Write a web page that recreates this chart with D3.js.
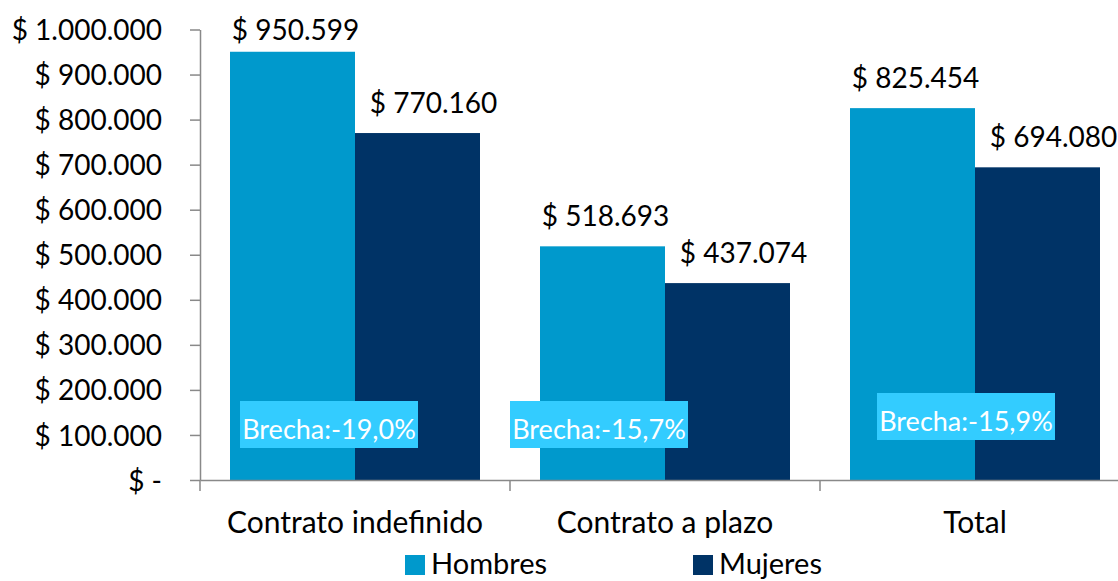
<!DOCTYPE html>
<html>
<head>
<meta charset="utf-8">
<script src="https://cdn.jsdelivr.net/npm/d3@7"></script>
<style>
  body { margin: 0; background: #fff; }
  text { font-family: Lato, "Open Sans", sans-serif; fill: #000; }
</style>
</head>
<body>
<script>
// data
var categories = ["Contrato indefinido", "Contrato a plazo", "Total"];
var series = ["Hombres", "Mujeres"];
var hombres = [950599, 518693, 825454];
var mujeres = [770160, 437074, 694080];
var brecha = ["-19,0%", "-15,7%", "-15,9%"];
var yTicks = [0, 100000, 200000, 300000, 400000, 500000, 600000, 700000, 800000, 900000, 1000000];

var colors = {Hombres: "#0099cc", Mujeres: "#003366"};

var width = 1118, height = 581;

var svg = d3.select("body").append("svg")
    .attr("width", width)
    .attr("height", height);

var loc = d3.formatLocale({decimal: ",", thousands: ".", grouping: [3], currency: ["$ ", ""]});
var fmt = loc.format(",.0f");
function money(v) { return v === 0 ? "$ -" : "$ " + fmt(v); }

// scales
var x = d3.scaleBand()
    .domain(categories)
    .range([200, 1130])
    .padding(0);

var x1 = d3.scaleBand()
    .domain(series)
    .range([0, x.bandwidth()])
    .paddingInner(0)
    .paddingOuter(0.24);

var y = d3.scaleLinear()
    .domain([0, 1000000])
    .range([480, 29.5]);

var rows = categories.map(function(c, i) {
    return {cat: c, Hombres: hombres[i], Mujeres: mujeres[i], brecha: brecha[i]};
});

// bars
var groups = svg.selectAll(".grp")
    .data(rows)
    .enter().append("g")
    .attr("class", "grp")
    .attr("transform", function(d) { return "translate(" + x(d.cat) + ",0)"; });

groups.selectAll("rect")
    .data(function(d) { return series.map(function(s) { return {s: s, v: d[s]}; }); })
    .enter().append("rect")
    .attr("x", function(d) { return x1(d.s); })
    .attr("width", x1.bandwidth())
    .attr("y", function(d) { return y(d.v); })
    .attr("height", function(d) { return y(0) - y(d.v); })
    .attr("fill", function(d) { return colors[d.s]; });

// value labels (excel nudges them a bit)
var labelDx = {Hombres: 3, Mujeres: 16};
groups.selectAll(".val")
    .data(function(d) { return series.map(function(s) { return {s: s, v: d[s]}; }); })
    .enter().append("text")
    .attr("class", "val")
    .attr("x", function(d) { return x1(d.s) + x1.bandwidth() / 2 + labelDx[d.s]; })
    .attr("y", function(d) { return Math.max(y(d.v) - 20, 40); })
    .attr("text-anchor", "middle")
    .style("font-size", "28px")
    .text(function(d) { return money(d.v); });

// y axis
var yAxis = d3.axisLeft(y)
    .tickValues(yTicks)
    .tickSize(10)
    .tickSizeOuter(0)
    .tickPadding(28)
    .tickFormat(money);

var gy = svg.append("g")
    .attr("transform", "translate(200,0)")
    .call(yAxis);
gy.select(".domain").attr("stroke", "#898989").attr("stroke-width", 1.5);
gy.selectAll(".tick line").attr("stroke", "#898989").attr("stroke-width", 1.5);
gy.selectAll(".tick text")
    .attr("dy", "0.36em")
    .style("font-size", "28px")
    .style("font-family", "Lato, sans-serif")
    .attr("fill", "#000");

// x axis: labels at band centers, ticks at band edges
var xAxis = d3.axisBottom(x).tickSize(0).tickSizeOuter(0).tickPadding(32);
var gx = svg.append("g")
    .attr("transform", "translate(0,480)")
    .call(xAxis);
gx.select(".domain").attr("stroke", "#898989").attr("stroke-width", 1.5);
gx.selectAll(".tick text")
    .style("font-size", "30px")
    .style("font-family", "Lato, sans-serif")
    .attr("fill", "#000");

var edges = categories.map(function(c) { return x(c); }).concat([x.range()[1]]);
gx.selectAll(".edge")
    .data(edges)
    .enter().append("line")
    .attr("class", "edge")
    .attr("x1", function(d) { return d; })
    .attr("x2", function(d) { return d; })
    .attr("y1", 0)
    .attr("y2", 11)
    .attr("stroke", "#898989")
    .attr("stroke-width", 1.5);

// brecha boxes (hand placed text boxes in the original)
var boxDx = [-115, -155, -98];
var boxTop = [401, 401, 393];
var boxes = groups.append("g")
    .attr("transform", function(d, i) {
        return "translate(" + (x.bandwidth() / 2 + boxDx[i]) + "," + boxTop[i] + ")";
    });
boxes.append("rect")
    .attr("width", 178)
    .attr("height", 47)
    .attr("fill", "#33ccff");
boxes.append("text")
    .attr("x", 89)
    .attr("y", 38)
    .attr("text-anchor", "middle")
    .style("font-size", "27px")
    .style("fill", "#fff")
    .text(function(d) { return "Brecha:" + d.brecha; });

// legend
var legX = [405, 693];
var leg = svg.selectAll(".leg")
    .data(series)
    .enter().append("g")
    .attr("class", "leg")
    .attr("transform", function(d, i) { return "translate(" + legX[i] + ",555)"; });
leg.append("rect")
    .attr("width", 20)
    .attr("height", 20)
    .attr("fill", function(d) { return colors[d]; });
leg.append("text")
    .attr("x", 26)
    .attr("y", 19)
    .style("font-size", "29px")
    .text(function(d) { return d; });
</script>
</body>
</html>
